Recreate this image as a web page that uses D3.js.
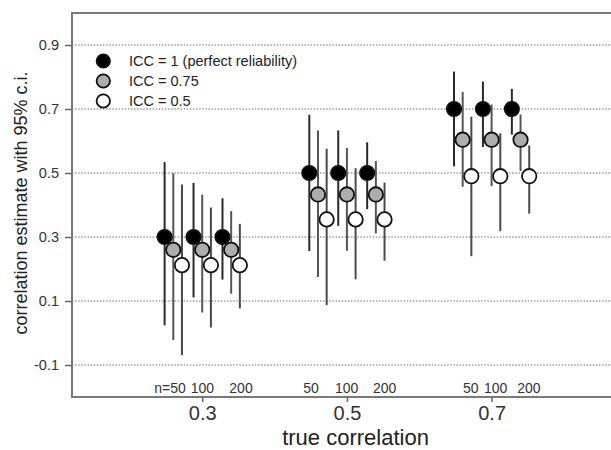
<!DOCTYPE html>
<html>
<head>
<meta charset="utf-8">
<script src="https://cdn.jsdelivr.net/npm/d3@7"></script>
<style>
  html, body { margin: 0; padding: 0; background: #fff; }
  svg { display: block; font-family: "Liberation Sans", Arial, Helvetica, sans-serif; }
</style>
</head>
<body>
<svg id="chart" width="611" height="450"></svg>
<script>
// ---------- data ----------
const trueCorr = [0.3, 0.5, 0.7];
const sampleSizes = [50, 100, 200];
const iccLabels = ["ICC = 1 (perfect reliability)", "ICC = 0.75", "ICC = 0.5"];

// point estimates per ICC level, one per true correlation
const estIcc1   = [0.30, 0.50, 0.70];
const estIcc075 = [0.26, 0.433, 0.604];
const estIcc05  = [0.212, 0.355, 0.49];

// 95% c.i. [low, high] per true correlation, per n (50, 100, 200)
const ciIcc1 = [
  [[0.024, 0.534], [0.111, 0.469], [0.167, 0.421]],
  [[0.256, 0.682], [0.335, 0.633], [0.387, 0.596]],
  [[0.521, 0.817], [0.581, 0.786], [0.620, 0.763]]
];
const ciIcc075 = [
  [[-0.022, 0.499], [0.064, 0.432], [0.123, 0.381]],
  [[0.175, 0.633], [0.257, 0.578], [0.311, 0.538]],
  [[0.457, 0.753], [0.459, 0.714], [0.506, 0.683]]
];
const ciIcc05 = [
  [[-0.069, 0.464], [0.017, 0.392], [0.077, 0.341]],
  [[0.087, 0.576], [0.168, 0.515], [0.226, 0.470]],
  [[0.240, 0.676], [0.318, 0.624], [0.373, 0.586]]
];

const yTicks = [-0.1, 0.1, 0.3, 0.5, 0.7, 0.9];
const xTicks = [0.3, 0.5, 0.7];
const nLabels = ["n=50", "100", "200", "50", "100", "200", "50", "100", "200"];
const nLabelX = [0.2555, 0.3003, 0.3536, 0.4503, 0.4997, 0.5522, 0.6712, 0.7057, 0.7516];

// ---------- layout ----------
const svg = d3.select("#chart");
const L = 72, R = 636.3, T = 13, B = 397;
const x = d3.scaleLinear().domain([0.12, 0.9]).range([L, R]);
const y = d3.scaleLinear().domain([-0.2, 1.0]).range([B, T]);

const nOffset = [-0.04, 0, 0.04];     // x shift per sample size (data units)
const iccOffset = [-0.012, 0, 0.012]; // x shift per ICC level (data units)
const fills = ["#000000", "#adadad", "#ffffff"];
const lineCols = ["#2a2a2a", "#555555", "#4a4a4a"];
const fmt = d => d.toFixed(1); // plain hyphen-minus as in the reference

const series = [
  { est: estIcc1, ci: ciIcc1 },
  { est: estIcc075, ci: ciIcc075 },
  { est: estIcc05, ci: ciIcc05 }
];

// gridlines
svg.append("g").selectAll("line").data(yTicks).join("line")
  .attr("x1", L).attr("x2", 611)
  .attr("y1", d => y(d)).attr("y2", d => y(d))
  .attr("stroke", "#9a9a9a").attr("stroke-width", 1.5)
  .attr("stroke-dasharray", "1.5,1.6");

// frame
svg.append("rect").attr("x", L).attr("y", T).attr("width", R - L + 10).attr("height", B - T)
  .attr("fill", "none").attr("stroke", "#7a7a7a").attr("stroke-width", 2);

// y axis ticks/labels
const yAxis = d3.axisLeft(y).tickValues(yTicks).tickSize(7).tickPadding(6).tickFormat(fmt);
const gy = svg.append("g").attr("transform", `translate(${L},0)`).call(yAxis);
gy.select(".domain").remove();
gy.selectAll(".tick line").attr("stroke", "#666").attr("stroke-width", 1.5);
gy.selectAll(".tick text").attr("font-size", 14.5).attr("fill", "#333")
  .attr("font-family", "Liberation Sans, Arial, sans-serif");

// x axis ticks/labels
const xAxis = d3.axisBottom(x).tickValues(xTicks).tickSize(5).tickPadding(4).tickFormat(fmt);
const gx = svg.append("g").attr("transform", `translate(0,${B})`).call(xAxis);
gx.select(".domain").remove();
gx.selectAll(".tick line").attr("stroke", "#666").attr("stroke-width", 1.5);
gx.selectAll(".tick text").attr("font-size", 20).attr("fill", "#333")
  .attr("font-family", "Liberation Sans, Arial, sans-serif");

// n labels
svg.append("g").selectAll("text").data(nLabels).join("text")
  .attr("x", (d, i) => x(nLabelX[i])).attr("y", 393)
  .attr("text-anchor", "middle").attr("font-size", 14).attr("fill", "#333")
  .text(d => d);

// error bars and points
const marks = svg.append("g");
trueCorr.forEach((tc, gi) => {
  sampleSizes.forEach((n, ni) => {
    series.forEach((s, si) => {
      const xv = tc + nOffset[ni] + iccOffset[si];
      marks.append("line")
        .attr("x1", x(xv)).attr("x2", x(xv))
        .attr("y1", y(s.ci[gi][ni][0])).attr("y2", y(s.ci[gi][ni][1]))
        .attr("stroke", lineCols[si]).attr("stroke-width", 2);
    });
  });
});
trueCorr.forEach((tc, gi) => {
  sampleSizes.forEach((n, ni) => {
    series.forEach((s, si) => {
      const xv = tc + nOffset[ni] + iccOffset[si];
      marks.append("circle")
        .attr("cx", x(xv)).attr("cy", y(s.est[gi]))
        .attr("r", 7.2)
        .attr("fill", fills[si]).attr("stroke", "#111").attr("stroke-width", 1.8);
    });
  });
});

// legend
const lg = svg.append("g");
iccLabels.forEach((lab, i) => {
  lg.append("circle").attr("cx", 103.3).attr("cy", 61 + i * 20).attr("r", 6.7)
    .attr("fill", fills[i]).attr("stroke", "#111").attr("stroke-width", 1.8);
  lg.append("text").attr("x", 129).attr("y", 61 + i * 20).attr("dy", "0.36em")
    .attr("font-size", 14.5).attr("fill", "#222").text(lab);
});

// axis titles
svg.append("text").attr("x", 355.5).attr("y", 445).attr("text-anchor", "middle")
  .attr("font-size", 22).attr("fill", "#222").text("true correlation");
svg.append("text").attr("transform", "translate(27,203) rotate(-90)")
  .attr("text-anchor", "middle").attr("font-size", 18).attr("fill", "#222")
  .text("correlation estimate with 95% c.i.");
</script>
</body>
</html>
